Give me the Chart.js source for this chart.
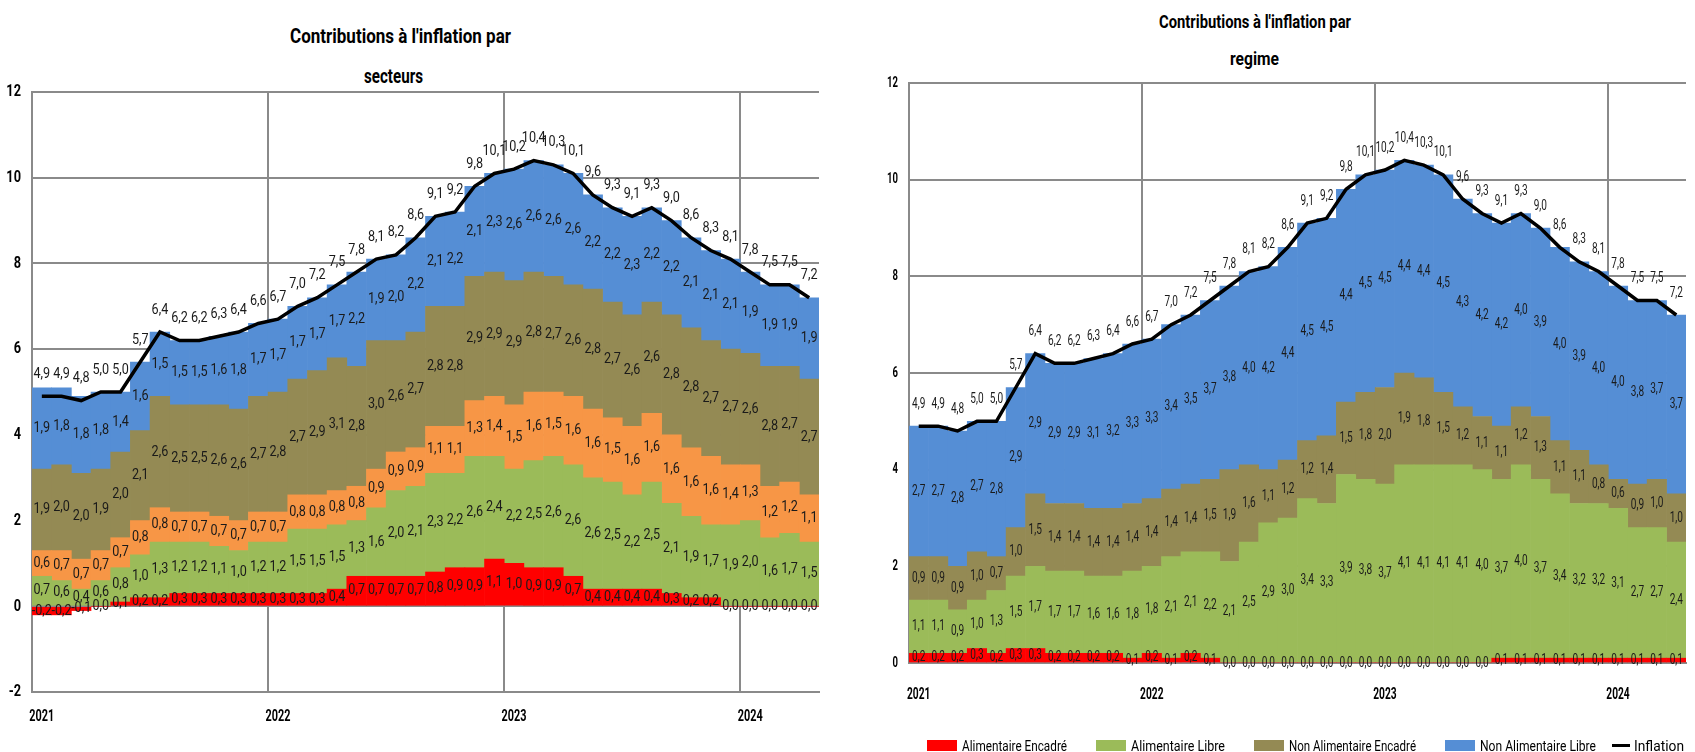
<!DOCTYPE html>
<html>
<head>
<meta charset="utf-8">
<script src="https://cdn.jsdelivr.net/npm/chart.js@4.4.1/dist/chart.umd.min.js"></script>
<style>
  body { margin: 0; background: #fff; width: 1695px; height: 752px; position: relative; overflow: hidden;
         font-family: Roboto, "Liberation Sans", sans-serif; }
  canvas { position: absolute; top: 0; }
  #leftChart { left: 0; }
  #rightChart { left: 850px; }
  .fit { position: absolute; white-space: nowrap; color: #000; line-height: 1; transform-origin: 0 50%; }
  .title { font-weight: bold; }
  .sw { position: absolute; width: 30px; height: 11px; }
  .ln { position: absolute; width: 18px; height: 3px; background: #000; }
</style>
</head>
<body>
<!-- text is squeezed horizontally to the widths (data-w) seen in the reference -->
<div class="fit title" data-cx="400" data-cy="36" data-w="221" style="font-size:20px;">Contributions à l'inflation par</div>
<div class="fit title" data-cx="393" data-cy="76" data-w="59" style="font-size:20px;">secteurs</div>
<div class="fit title" data-cx="1255" data-cy="22" data-w="192" style="font-size:18px;">Contributions à l'inflation par</div>
<div class="fit title" data-cx="1254" data-cy="59" data-w="49" style="font-size:18px;">regime</div>

<canvas id="leftChart" width="845" height="752"></canvas>
<canvas id="rightChart" width="845" height="752"></canvas>

<div class="sw" style="left:927px; top:740px; background:#FF0000"></div>
<div class="fit" data-x="962" data-cy="746" data-w="105" style="font-size:15px;">Alimentaire Encadré</div>
<div class="sw" style="left:1096px; top:740px; background:#9BBB59"></div>
<div class="fit" data-x="1131" data-cy="746" data-w="94" style="font-size:15px;">Alimentaire Libre</div>
<div class="sw" style="left:1254px; top:740px; background:#948A54"></div>
<div class="fit" data-x="1289" data-cy="746" data-w="127" style="font-size:15px;">Non Alimentaire Encadré</div>
<div class="sw" style="left:1445px; top:740px; background:#558ED5"></div>
<div class="fit" data-x="1480" data-cy="746" data-w="116" style="font-size:15px;">Non Alimentaire Libre</div>
<div class="ln" style="left:1612px; top:744px;"></div>
<div class="fit" data-x="1634" data-cy="746" data-w="50" style="font-size:15px;">Inflation</div>

<script>
// Tick labels (years) and monthly categories Jan 2021 - Apr 2024
const tickYears = ['2021', '2022', '2023', '2024'];
const months = [];
tickYears.forEach(y => {
    for (let m = 1; m <= 12; m++) months.push(y + '-' + String(m).padStart(2, '0'));
});
months.length = 40;

// Inflation (same line on both charts)
const inflation = [4.9, 4.9, 4.8, 5.0, 5.0, 5.7, 6.4, 6.2, 6.2, 6.3, 6.4, 6.6,
    6.7, 7.0, 7.2, 7.5, 7.8, 8.1, 8.2, 8.6, 9.1, 9.2, 9.8, 10.1,
    10.2, 10.4, 10.3, 10.1, 9.6, 9.3, 9.1, 9.3, 9.0, 8.6, 8.3, 8.1,
    7.8, 7.5, 7.5, 7.2];

// Left chart: contributions par secteurs (bottom to top)
const secteurRouge = [-0.2, -0.2, -0.1, 0.0, 0.1, 0.2, 0.2, 0.3, 0.3, 0.3, 0.3, 0.3,
    0.3, 0.3, 0.3, 0.4, 0.7, 0.7, 0.7, 0.7, 0.8, 0.9, 0.9, 1.1,
    1.0, 0.9, 0.9, 0.7, 0.4, 0.4, 0.4, 0.4, 0.3, 0.2, 0.2, 0.0,
    0.0, 0.0, 0.0, 0.0];
const secteurVert = [0.7, 0.6, 0.4, 0.6, 0.8, 1.0, 1.3, 1.2, 1.2, 1.1, 1.0, 1.2,
    1.2, 1.5, 1.5, 1.5, 1.3, 1.6, 2.0, 2.1, 2.3, 2.2, 2.6, 2.4,
    2.2, 2.5, 2.6, 2.6, 2.6, 2.5, 2.2, 2.5, 2.1, 1.9, 1.7, 1.9,
    2.0, 1.6, 1.7, 1.5];
const secteurOrange = [0.6, 0.7, 0.7, 0.7, 0.7, 0.8, 0.8, 0.7, 0.7, 0.7, 0.7, 0.7,
    0.7, 0.8, 0.8, 0.8, 0.8, 0.9, 0.9, 0.9, 1.1, 1.1, 1.3, 1.4,
    1.5, 1.6, 1.5, 1.6, 1.6, 1.5, 1.6, 1.6, 1.6, 1.6, 1.6, 1.4,
    1.3, 1.2, 1.2, 1.1];
const secteurOlive = [1.9, 2.0, 2.0, 1.9, 2.0, 2.1, 2.6, 2.5, 2.5, 2.6, 2.6, 2.7,
    2.8, 2.7, 2.9, 3.1, 2.8, 3.0, 2.6, 2.7, 2.8, 2.8, 2.9, 2.9,
    2.9, 2.8, 2.7, 2.6, 2.8, 2.7, 2.6, 2.6, 2.8, 2.8, 2.7, 2.7,
    2.6, 2.8, 2.7, 2.7];
const secteurBleu = [1.9, 1.8, 1.8, 1.8, 1.4, 1.6, 1.5, 1.5, 1.5, 1.6, 1.8, 1.7,
    1.7, 1.7, 1.7, 1.7, 2.2, 1.9, 2.0, 2.2, 2.1, 2.2, 2.1, 2.3,
    2.6, 2.6, 2.6, 2.6, 2.2, 2.2, 2.3, 2.2, 2.2, 2.1, 2.1, 2.1,
    1.9, 1.9, 1.9, 1.9];

// Right chart: contributions par regime
const alimEncadre = [0.2, 0.2, 0.2, 0.3, 0.2, 0.3, 0.3, 0.2, 0.2, 0.2, 0.2, 0.1,
    0.2, 0.1, 0.2, 0.1, 0.0, 0.0, 0.0, 0.0, 0.0, 0.0, 0.0, 0.0,
    0.0, 0.0, 0.0, 0.0, 0.0, 0.0, 0.1, 0.1, 0.1, 0.1, 0.1, 0.1,
    0.1, 0.1, 0.1, 0.1];
const alimLibre = [1.1, 1.1, 0.9, 1.0, 1.3, 1.5, 1.7, 1.7, 1.7, 1.6, 1.6, 1.8,
    1.8, 2.1, 2.1, 2.2, 2.1, 2.5, 2.9, 3.0, 3.4, 3.3, 3.9, 3.8,
    3.7, 4.1, 4.1, 4.1, 4.1, 4.0, 3.7, 4.0, 3.7, 3.4, 3.2, 3.2,
    3.1, 2.7, 2.7, 2.4];
const nonAlimEncadre = [0.9, 0.9, 0.9, 1.0, 0.7, 1.0, 1.5, 1.4, 1.4, 1.4, 1.4, 1.4,
    1.4, 1.4, 1.4, 1.5, 1.9, 1.6, 1.1, 1.2, 1.2, 1.4, 1.5, 1.8,
    2.0, 1.9, 1.8, 1.5, 1.2, 1.1, 1.1, 1.2, 1.3, 1.1, 1.1, 0.8,
    0.6, 0.9, 1.0, 1.0];
const nonAlimLibre = [2.7, 2.7, 2.8, 2.7, 2.8, 2.9, 2.9, 2.9, 2.9, 3.1, 3.2, 3.3,
    3.3, 3.4, 3.5, 3.7, 3.8, 4.0, 4.2, 4.4, 4.5, 4.5, 4.4, 4.5,
    4.5, 4.4, 4.4, 4.5, 4.3, 4.2, 4.2, 4.0, 3.9, 4.0, 3.9, 4.0,
    4.0, 3.8, 3.7, 3.7];

const RED = '#FF0000', GREEN = '#9BBB59', ORANGE = '#F79646', OLIVE = '#948A54', BLUE = '#558ED5';
const FONT = 'Roboto, "Liberation Sans", sans-serif';
const GRID = '#8a8a8a';

// squeeze the html texts to the reference widths
document.querySelectorAll('.fit').forEach(el => {
    const w = el.getBoundingClientRect().width;
    const s = +el.dataset.w / w;
    const h = el.getBoundingClientRect().height;
    const left = el.dataset.cx ? +el.dataset.cx - el.dataset.w / 2 : +el.dataset.x;
    el.style.left = left + 'px';
    el.style.top = (+el.dataset.cy - h / 2) + 'px';
    el.style.transform = 'scaleX(' + s + ')';
});

// text drawn narrower than the font, like the squeezed reference
function narrowText(ctx, txt, x, y, sx, align) {
    ctx.save();
    ctx.translate(x, y);
    ctx.scale(sx, 1);
    ctx.textAlign = align;
    ctx.fillText(txt, 0, 0);
    ctx.restore();
}

// axis labels + value of every segment and of the inflation line (decimal comma)
const valueLabels = {
    id: 'valueLabels',
    afterDatasetsDraw(chart, args, o) {
        const ctx = chart.ctx;
        const area = chart.chartArea;
        ctx.save();
        ctx.fillStyle = '#1a1a1a';
        ctx.textBaseline = 'middle';
        ctx.font = o.size + 'px ' + FONT;
        chart.data.datasets.forEach((ds, i) => {
            chart.getDatasetMeta(i).data.forEach((el, j) => {
                const txt = ds.data[j].toFixed(1).replace('.', ',');
                const y = ds.type === 'line' ? el.y - o.lineOffset : (el.y + el.base) / 2;
                narrowText(ctx, txt, el.x, y, o.sx, 'center');
            });
        });

        ctx.fillStyle = '#000';
        const ys = chart.scales.y;
        ctx.font = 'bold ' + o.ySize + 'px ' + FONT;
        ys.ticks.forEach(t => {
            narrowText(ctx, String(t.value), area.left - 11, ys.getPixelForValue(t.value), o.ySx, 'right');
        });
        const xs = chart.scales.x;
        ctx.font = 'bold ' + o.xSize + 'px ' + FONT;
        tickYears.forEach((yr, k) => {
            narrowText(ctx, yr, xs.getPixelForTick(k * 12), area.bottom + o.xOff, o.xSx, 'center');
        });
        ctx.restore();
    }
};

function bar(label, data, color) {
    return { type: 'bar', label: label, data: data, backgroundColor: color, borderWidth: 0,
             barPercentage: 1, categoryPercentage: 1, stack: 'contrib', order: 1 };
}

function makeChart(id, datasets, o) {
    return new Chart(document.getElementById(id), {
        data: {
            labels: months,
            datasets: datasets.concat([{
                type: 'line', label: 'Inflation', data: inflation, borderColor: '#000', borderWidth: 3.5,
                pointRadius: 0, tension: 0, stack: 'inf', order: 0, fill: false
            }])
        },
        options: {
            responsive: false,
            animation: false,
            layout: { padding: { top: o.top, right: o.right, left: 0, bottom: 0 } },
            plugins: {
                legend: { display: false },
                tooltip: { enabled: false },
                valueLabels: o
            },
            scales: {
                x: {
                    stacked: true,
                    afterFit: s => { s.height = o.xHeight; },
                    grid: {
                        offset: true, drawTicks: false, lineWidth: 2,
                        color: c => (c.index % 12 === 0 && c.index > 0) ? GRID : 'rgba(0,0,0,0)'
                    },
                    border: { color: GRID, width: 2 },
                    ticks: { display: false, autoSkip: false }
                },
                y: {
                    stacked: true, min: o.min, max: 12,
                    afterFit: s => { s.width = o.yWidth; },
                    grid: { color: GRID, lineWidth: 2, drawTicks: false },
                    border: { display: true, color: GRID, width: 2 },
                    ticks: { display: false, stepSize: 2 }
                }
            }
        },
        plugins: [valueLabels]
    });
}

makeChart('leftChart', [
    bar('Secteur 1', secteurRouge, RED),
    bar('Secteur 2', secteurVert, GREEN),
    bar('Secteur 3', secteurOrange, ORANGE),
    bar('Secteur 4', secteurOlive, OLIVE),
    bar('Secteur 5', secteurBleu, BLUE)
], { top: 92, right: 26, xHeight: 60, yWidth: 32, min: -2,
     size: 14, sx: 0.9, lineOffset: 22,
     ySize: 17, ySx: 0.75, xSize: 16, xSx: 0.68, xOff: 25 });

makeChart('rightChart', [
    bar('Alimentaire Encadré', alimEncadre, RED),
    bar('Alimentaire Libre', alimLibre, GREEN),
    bar('Non Alimentaire Encadré', nonAlimEncadre, OLIVE),
    bar('Non Alimentaire Libre', nonAlimLibre, BLUE)
], { top: 83, right: 9, xHeight: 89, yWidth: 59, min: 0,
     size: 14, sx: 0.72, lineOffset: 22,
     ySize: 14, ySx: 0.68, xSize: 17, xSx: 0.6, xOff: 32 });
</script>
</body>
</html>
